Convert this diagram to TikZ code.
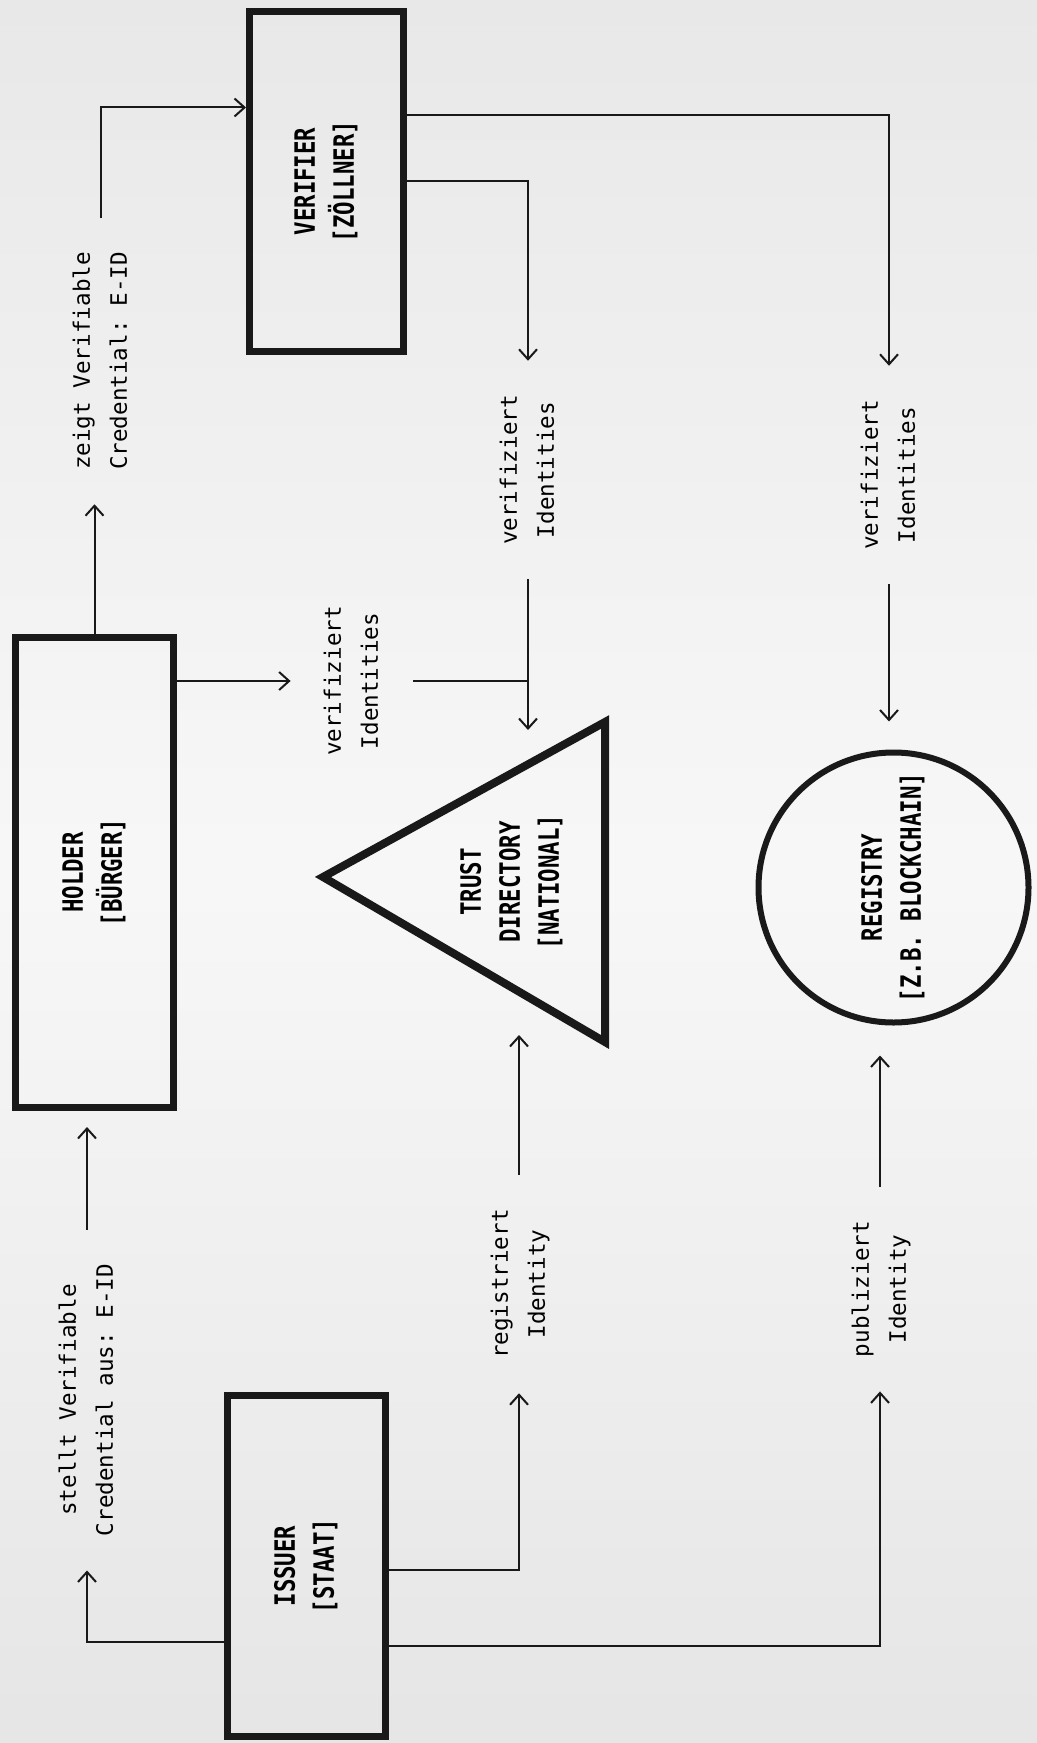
\documentclass[tikz,border=0pt]{standalone}
\usepackage{graphicx}
\usepackage{fontspec}
\setmonofont{DejaVu Sans Mono}
\newfontfamily\titelfont[FakeStretch=0.8]{DejaVu Sans Mono}
\usetikzlibrary{arrows.meta}
\newcommand{\hochtext}[1]{\rotatebox{90}{\begin{tabular}{@{}c@{}}#1\end{tabular}}}

\begin{document}
\begin{tikzpicture}[x=0.5pt,y=-0.5pt,
    kasten/.style={draw=black!90,line width=3.5pt,inner sep=0pt,font=\titelfont\bfseries\fontsize{14}{19.5}\selectfont},
    titel/.style={inner sep=0pt,font=\titelfont\bfseries\fontsize{14}{19.5}\selectfont},
    etikett/.style={inner xsep=12pt,inner ysep=17pt,font=\ttfamily\fontsize{11.3}{18.5}\selectfont},
    pfeil/.style={draw=black!90,line width=1pt,-{Straight Barb[length=5pt,width=9pt]}},
    linie/.style={draw=black!90,line width=1pt}]
  \shade[top color=black!9,bottom color=black!10,middle color=black!3] (0,0) rectangle (1037,1743);
  \useasboundingbox (0,0) rectangle (1037,1743);

  % akteure
  \node[kasten,minimum width=77pt,minimum height=170pt] (verifier) at (326.5,181.5) {\hochtext{VERIFIER\\{[}ZÖLLNER{]}}};
  \node[kasten,minimum width=79pt,minimum height=235pt] (holder) at (94.5,872.5) {\hochtext{HOLDER\\{[}BÜRGER{]}}};
  \node[kasten,minimum width=79pt,minimum height=170.5pt] (issuer) at (306.5,1566) {\hochtext{ISSUER\\{[}STAAT{]}}};
  \draw[draw=black!90,line width=4pt] (323,877) -- (605,722) -- (605,1042) -- cycle;
  \node[titel] (trust) at (512,882) {\hochtext{TRUST\\DIRECTORY\\{[}NATIONAL{]}}};
  \node[kasten,circle,line width=3pt,minimum size=135pt] (registry) at (893.5,887.5) {\hochtext{REGISTRY\\{[}Z.B. BLOCKCHAIN{]}}};
  \coordinate (trustin) at (528,730);
  \coordinate (trustout) at (519,1035);

  % beschriftungen
  \node[etikett] (zeigt) at (101,361) {\hochtext{zeigt Verifiable\\Credential: E-ID}};
  \node[etikett] (verif1) at (352,681) {\hochtext{verifiziert\\Identities}};
  \node[etikett] (verif2) at (528,470) {\hochtext{verifiziert\\Identities}};
  \node[etikett] (verif3) at (889,475) {\hochtext{verifiziert\\Identities}};
  \node[etikett] (stellt) at (87,1400) {\hochtext{stellt Verifiable\\Credential aus: E-ID}};
  \node[etikett] (regist) at (519,1284) {\hochtext{registriert\\Identity}};
  \node[etikett] (publ) at (880,1289) {\hochtext{publiziert\\Identity}};

  % verbindungen
  \draw[pfeil] (holder.north) -- (holder.north |- zeigt.south);
  \draw[pfeil] (zeigt.north) |- ([yshift=37pt]verifier.west);
  \draw[pfeil] ([yshift=33pt]verifier.east) -| (verif3.north);
  \draw[pfeil] (verifier.east) -| (verif2.north);
  \draw[pfeil] (verif2.south) -- (verif2.south |- trustin);
  \draw[pfeil,shorten >=14pt] (verif3.south) -- (verif3.south |- registry.north);
  \draw[pfeil] (holder.east |- verif1.west) -- (verif1.west);
  \draw[linie] (verif1.east) -- (verif1.east -| verif2.south);
  \draw[pfeil] ([yshift=-38pt]issuer.west) -| (stellt.south);
  \draw[pfeil,shorten >=8pt] (stellt.north) -- (stellt.north |- holder.south);
  \draw[pfeil] ([yshift=-2pt]issuer.east) -| (regist.south);
  \draw[pfeil] (regist.north) -- (regist.north |- trustout);
  \draw[pfeil] ([yshift=-40pt]issuer.east) -| (publ.south);
  \draw[pfeil,shorten >=15pt] (publ.north) -- (publ.north |- registry.south);
\end{tikzpicture}
\end{document}
